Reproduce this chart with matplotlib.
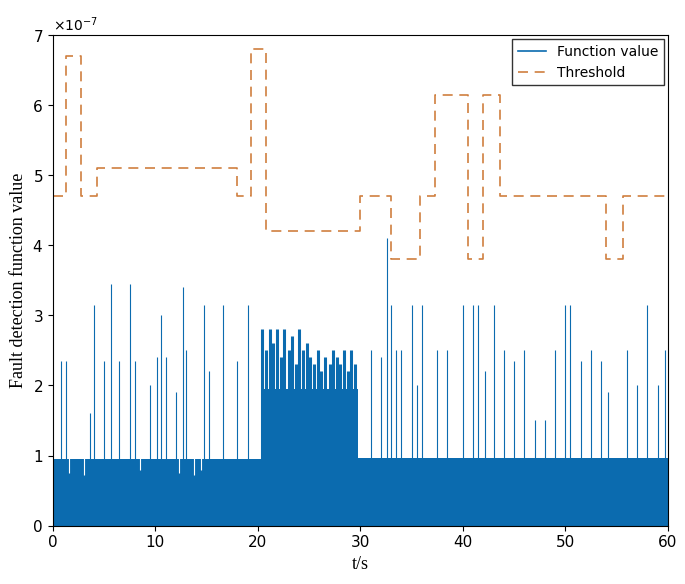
import matplotlib.pyplot as plt
import numpy as np
from matplotlib.lines import Line2D

# threshold step edges (t) and levels (x1e-7)
thr_edges = [0, 1.3, 2.8, 4.3, 18.0, 19.3, 20.8, 30.0, 33.0, 35.8, 37.3, 40.5, 42.0, 43.6, 54.0, 55.6, 60]
thr_levels = [4.7, 6.7, 4.7, 5.1, 4.7, 6.8, 4.2, 4.7, 3.8, 4.7, 6.15, 3.8, 6.15, 4.7, 3.8, 4.7]

# baseline bands of the function value: (start, end, level)
base_bands = [(0, 20.3, 0.95), (20.3, 29.8, 1.95), (29.8, 60, 0.97)]

# isolated spikes (t, value x1e-7)
spike_t = [0.8, 1.3, 3.6, 4.0, 5.0, 5.7, 6.5, 7.5, 8.0, 9.5, 10.2, 10.6, 11.0, 12.0, 12.7, 13.0,
           14.8, 15.2, 16.6, 18.0, 19.0, 31.0, 32.0, 32.6, 33.0, 33.5, 34.0, 35.0, 35.5, 36.0,
           37.5, 38.5, 40.0, 41.0, 41.5, 42.2, 43.0, 44.0, 45.0, 46.0, 47.0, 48.0, 49.0, 50.0,
           50.5, 51.5, 52.5, 53.5, 54.2, 56.0, 57.0, 58.0, 59.0, 59.7]
spike_v = [2.35, 2.35, 1.6, 3.15, 2.35, 3.45, 2.35, 3.45, 2.35, 2.0, 2.4, 3.0, 2.4, 1.9, 3.4, 2.5,
           3.15, 2.2, 3.15, 2.35, 3.15, 2.5, 2.4, 4.1, 3.15, 2.5, 2.5, 3.15, 2.0, 3.15,
           2.5, 2.5, 3.15, 3.15, 3.15, 2.2, 3.15, 2.5, 2.35, 2.5, 1.5, 1.5, 2.5, 3.15,
           3.15, 2.35, 2.5, 2.35, 1.9, 2.5, 2.0, 3.15, 2.0, 2.5]

# dense burst in 20-30 s
burst_t = [20.4, 20.8, 21.2, 21.5, 21.9, 22.3, 22.6, 23.0, 23.3, 23.7, 24.0, 24.4, 24.8, 25.1,
           25.5, 25.9, 26.2, 26.6, 27.0, 27.3, 27.7, 28.0, 28.4, 28.8, 29.1, 29.5]
burst_v = [2.8, 2.5, 2.8, 2.6, 2.8, 2.4, 2.8, 2.5, 2.7, 2.3, 2.8, 2.5, 2.6, 2.4,
           2.3, 2.5, 2.2, 2.4, 2.3, 2.5, 2.4, 2.3, 2.5, 2.2, 2.5, 2.3]

# dips in baseline (t, value)
dip_t = [1.6, 3.0, 8.5, 12.3, 13.8, 14.5]
dip_v = [0.75, 0.72, 0.8, 0.75, 0.72, 0.8]

blue = '#0B6BAF'
orange = '#CF7F3F'
fig, ax = plt.subplots(figsize=(6.85, 5.84), dpi=100)
fig.subplots_adjust(left=0.077, right=0.975, bottom=0.1, top=0.94)

for s, e, lv in base_bands:
    ax.fill_between([s, e], 0, lv * 1e-7, color=blue, lw=0)
ax.vlines(spike_t, 0, np.array(spike_v) * 1e-7, color=blue, lw=0.8)
ax.vlines(burst_t, 0, np.array(burst_v) * 1e-7, color=blue, lw=2.2)
ax.vlines(dip_t, np.array(dip_v) * 1e-7, 0.97e-7, color='white', lw=0.8)

ax.step(thr_edges, np.array(thr_levels + [thr_levels[-1]]) * 1e-7, where='post',
        color=orange, ls=(0, (6, 4)), lw=1.2)

ax.set_xlim(0, 60)
ax.set_ylim(0, 7e-7)
ax.set_xticks(range(0, 61, 10))
ax.ticklabel_format(axis='y', style='sci', scilimits=(-7, -7), useMathText=True)
ax.set_xlabel('t/s', family='Liberation Serif', fontsize=13)
ax.set_ylabel('Fault detection function value', family='Liberation Serif', fontsize=13)
ax.tick_params(labelsize=11)
h = [Line2D([], [], color=blue, lw=1.2), Line2D([], [], color=orange, ls=(0, (6, 4)), lw=1.2)]
ax.legend(h, ['Function value', 'Threshold'], loc='upper right', fancybox=False,
          edgecolor='black', fontsize=10, borderaxespad=0.3)
fig.savefig('out.png')
